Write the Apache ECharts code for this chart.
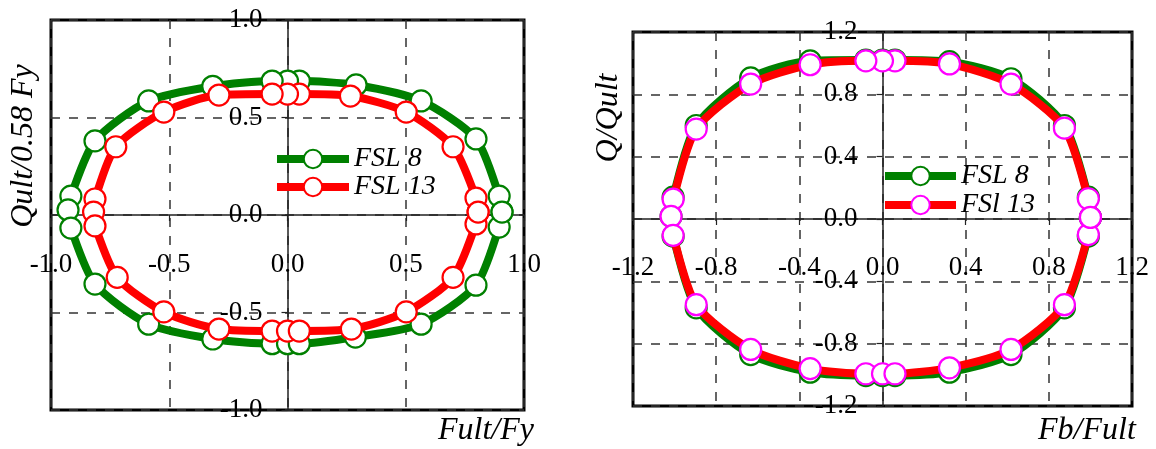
<!DOCTYPE html>
<html>
<head>
<meta charset="utf-8">
<script src="https://cdn.jsdelivr.net/npm/echarts@6/dist/echarts.min.js"></script>
<style>
html,body{margin:0;padding:0;background:#fff;}
#c{width:1156px;height:449px;}
</style>
</head>
<body>
<div id="c"></div>
<script>
// ---- Left chart: Qult/0.58Fy vs Fult/Fy ----
const leftFSL8X  = [0.907, 0.895, 0.797, 0.565, 0.29, 0.05, 0.0, -0.065, -0.316, -0.587, -0.814, -0.916, -0.928, -0.916, -0.814, -0.587, -0.316, -0.065, 0.0, 0.05, 0.287, 0.565, 0.797, 0.895, 0.907];
const leftFSL8Y  = [0.015, 0.097, 0.39, 0.585, 0.667, 0.687, 0.687, 0.687, 0.66, 0.585, 0.38, 0.097, 0.026, -0.067, -0.354, -0.56, -0.636, -0.66, -0.66, -0.66, -0.626, -0.56, -0.36, -0.062, 0.015];
const leftFSL13X = [0.806, 0.797, 0.70, 0.502, 0.266, 0.05, 0.0, -0.065, -0.29, -0.523, -0.726, -0.814, -0.82, -0.814, -0.72, -0.523, -0.29, -0.065, 0.0, 0.05, 0.27, 0.502, 0.70, 0.797, 0.806];
const leftFSL13Y = [0.015, 0.087, 0.35, 0.528, 0.61, 0.62, 0.62, 0.62, 0.615, 0.528, 0.35, 0.082, 0.015, -0.056, -0.32, -0.497, -0.585, -0.595, -0.595, -0.595, -0.585, -0.497, -0.32, -0.046, 0.015];

// ---- Right chart: Q/Qult vs Fb/Fult ----
const rightFSL8X  = [1.0, 0.99, 0.875, 0.618, 0.322, 0.06, 0.0, -0.08, -0.348, -0.634, -0.896, -1.007, -1.017, -1.007, -0.896, -0.634, -0.348, -0.08, 0.0, 0.06, 0.322, 0.618, 0.875, 0.99, 1.0];
const rightFSL8Y  = [0.01, 0.14, 0.6, 0.9, 1.01, 1.02, 1.02, 1.02, 1.015, 0.905, 0.6, 0.14, 0.017, -0.11, -0.57, -0.87, -0.983, -1.005, -1.005, -1.005, -0.983, -0.87, -0.57, -0.11, 0.01];
const rightFSl13X = [1.0, 0.99, 0.875, 0.618, 0.322, 0.06, 0.0, -0.08, -0.348, -0.634, -0.896, -1.007, -1.017, -1.007, -0.896, -0.634, -0.348, -0.08, 0.0, 0.06, 0.322, 0.618, 0.875, 0.99, 1.0];
const rightFSl13Y = [0.01, 0.13, 0.583, 0.866, 0.995, 1.015, 1.015, 1.015, 0.99, 0.866, 0.577, 0.127, 0.017, -0.105, -0.55, -0.837, -0.96, -0.993, -0.993, -0.993, -0.955, -0.837, -0.55, -0.1, 0.01];

const leftTicks  = {min: -1.0, max: 1.0, interval: 0.5};
const rightTicks = {min: -1.2, max: 1.2, interval: 0.4};

const FONT = '"Liberation Serif", "DejaVu Serif", serif';
const zip = (xs, ys) => xs.map((x, i) => [x, ys[i]]);

// grid boxes
const G = [
  {left: 51, top: 20, width: 473, height: 390},
  {left: 633, top: 32, width: 499, height: 374}
];

function mkAxis(kind, idx, t, margin) {
  const g = G[idx];
  // move the axis from the grid edge to the zero line
  const offset = kind === 'x' ? -(g.height / 2) : -(g.width / 2);
  return {
    type: 'value', gridIndex: idx, min: t.min, max: t.max, interval: t.interval,
    position: kind === 'x' ? 'bottom' : 'left', offset: offset,
    axisLine: {show: true, onZero: false, lineStyle: {color: '#222', width: 1.5}},
    axisTick: {show: true, length: 6, inside: false, lineStyle: {color: '#222', width: 1.2}},
    axisLabel: {show: true, margin: margin, color: '#000', fontFamily: FONT, fontSize: 27,
      formatter: v => v.toFixed(1), showMinLabel: true, showMaxLabel: true, hideOverlap: false},
    splitLine: {show: true, lineStyle: {color: '#333', width: 1.5, type: [9, 9]}}
  };
}
function mkSeries(name, idx, data, lineColor, markColor, z) {
  return {
    name: name, type: 'line', xAxisIndex: idx, yAxisIndex: idx, data: data,
    smooth: 0.25, symbol: 'circle', symbolSize: 21, z: z,
    lineStyle: {color: lineColor, width: 8},
    itemStyle: {color: '#fff', borderColor: markColor, borderWidth: 2.2},
    emphasis: {disabled: true}, animation: false
  };
}

const chart = echarts.init(document.getElementById('c'), null, {renderer: 'canvas'});
chart.setOption({
  animation: false,
  backgroundColor: '#fff',
  grid: G.map(g => Object.assign({show: true, borderColor: '#000', borderWidth: 3,
    backgroundColor: 'transparent', containLabel: false, outerBoundsMode: 'none'}, g)),
  xAxis: [mkAxis('x', 0, leftTicks, 36), mkAxis('x', 1, rightTicks, 35)],
  yAxis: [mkAxis('y', 0, leftTicks, 25), mkAxis('y', 1, rightTicks, 25)],
  legend: [
    {data: ['FSL 8', 'FSL 13'], orient: 'vertical', left: 268, top: 140, itemWidth: 72, itemHeight: 23, itemGap: 0,
      selectedMode: false, lineStyle: {width: 8},
      textStyle: {fontFamily: FONT, fontStyle: 'italic', fontSize: 28, color: '#000', lineHeight: 27}},
    {data: ['FSL 8', 'FSl 13'], orient: 'vertical', left: 876, top: 157, itemWidth: 71, itemHeight: 23, itemGap: 1,
      selectedMode: false, lineStyle: {width: 8},
      textStyle: {fontFamily: FONT, fontStyle: 'italic', fontSize: 28, color: '#000', lineHeight: 27}}
  ],
  series: [
    mkSeries('FSL 8', 0, zip(leftFSL8X, leftFSL8Y), '#008000', '#008000', 2),
    mkSeries('FSL 13', 0, zip(leftFSL13X, leftFSL13Y), '#ff0000', '#ff0000', 3),
    mkSeries('FSL 8', 1, zip(rightFSL8X, rightFSL8Y), '#008000', '#008000', 2),
    mkSeries('FSl 13', 1, zip(rightFSl13X, rightFSl13Y), '#ff0000', '#ff00ff', 3)
  ],
  graphic: [
    {type: 'text', left: 438, top: 415, style: {text: 'Fult/Fy', font: 'italic 32px ' + FONT, fill: '#000'}},
    {type: 'text', x: 24, y: 146, rotation: Math.PI / 2, style: {text: 'Qult/0.58 Fy', font: 'italic 32px ' + FONT, fill: '#000', align: 'center', verticalAlign: 'middle'}},
    {type: 'text', left: 1038, top: 415, style: {text: 'Fb/Fult', font: 'italic 32px ' + FONT, fill: '#000'}},
    {type: 'text', x: 609, y: 118, rotation: Math.PI / 2, style: {text: 'Q/Qult', font: 'italic 32px ' + FONT, fill: '#000', align: 'center', verticalAlign: 'middle'}}
  ]
});
</script>
</body>
</html>
